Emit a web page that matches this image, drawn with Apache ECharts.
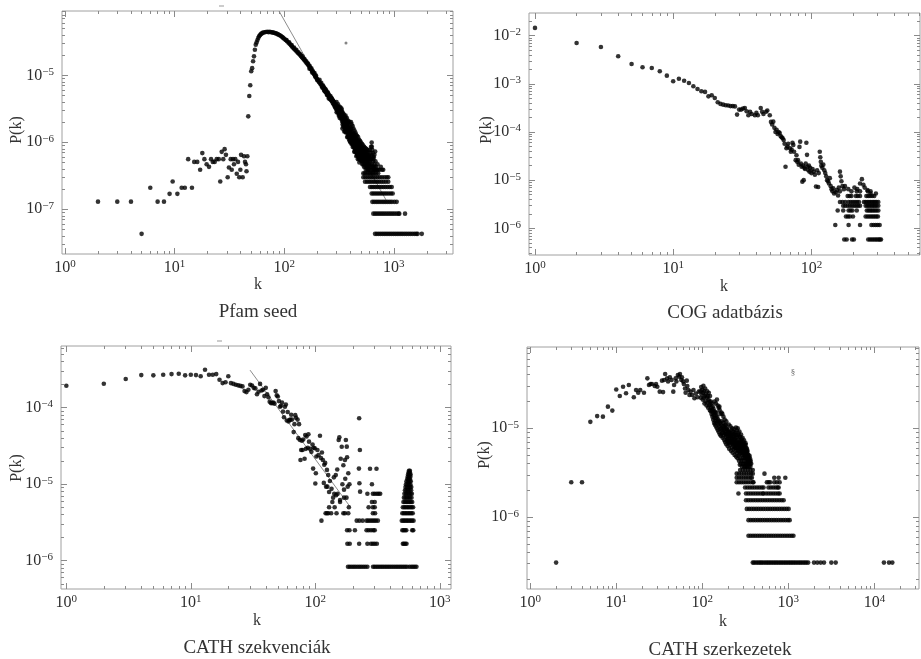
<!DOCTYPE html>
<html>
<head>
<meta charset="utf-8">
<script src="https://cdn.jsdelivr.net/npm/echarts@6/dist/echarts.min.js"></script>
<style>
html,body{margin:0;padding:0;background:#fff;}
#c{width:921px;height:659px;}
</style>
</head>
<body>
<div id="c"></div>
<script>
// ---------------- DATA ----------------
// Panel 1: Pfam seed
const pfamLow = [[2,1.3e-7],[3,1.3e-7],[4,1.3e-7],[5,4.3e-8],[6,2.1e-7],[7,1.3e-7],[8,1.3e-7],[9,1.7e-7],[9.6,2.6e-7],[10.6,1.7e-7],[11.6,2.1e-7],[12.4,2.1e-7],[13.3,5.6e-7],[14.4,2.1e-7],[15.1,5.1e-7],[16.1,5.1e-7],[17.1,3.9e-7],[17.9,6.9e-7],[18.7,5.6e-7],[19.6,4.7e-7],[20.6,4.3e-7],[21.5,5.6e-7],[22.3,5.1e-7],[23.2,5.1e-7],[24.2,5.6e-7],[25.3,5.6e-7],[26.1,2.6e-7],[26.9,7.2e-7],[27.8,5.6e-7],[28.6,7.9e-7],[29.4,6.5e-7],[30.5,3.0e-7],[31.3,4.2e-7],[32.5,5.6e-7],[33.2,3.9e-7],[34.1,5.6e-7],[34.8,4.7e-7],[35.8,5.6e-7],[36.9,3.4e-7],[37.9,5.1e-7],[38.9,3.0e-7],[39.8,3.9e-7],[40.4,6.5e-7],[41.8,3.0e-7],[43,6.2e-7],[43.9,5.1e-7],[44.8,4.7e-7],[45.3,3.7e-7],[46.1,6.2e-7]];
const pfamRise = [[47,2.44e-6],[48,4.9e-6],[49,7.1e-6],[50,1.15e-5],[51,1.28e-5],[52,1.62e-5],[53,1.92e-5],[54,2.41e-5],[55,2.87e-5],[56,3.1e-5],[57,3.37e-5],[58,3.6e-5],[59,3.82e-5],[60,3.95e-5],[61,4.1e-5],[62,4.2e-5],[63,4.25e-5],[64,4.35e-5],[66,4.38e-5],[68,4.44e-5],[70,4.46e-5],[72,4.41e-5],[74,4.47e-5],[76,4.4e-5],[78,4.37e-5],[80,4.33e-5],[82,4.28e-5],[84,4.22e-5],[86,4.16e-5],[88,4.08e-5],[90,4.0e-5],[92,3.92e-5],[94,3.82e-5],[96,3.72e-5],[98,3.62e-5],[100,3.5e-5],[103,3.38e-5],[105,3.35e-5],[106,3.22e-5],[109,3.08e-5],[111,3.1e-5],[112,2.95e-5],[115,2.8e-5],[117,2.82e-5],[118,2.68e-5],[121,2.56e-5],[123,2.6e-5],[124,2.45e-5],[127,2.36e-5],[129,2.4e-5],[130,2.27e-5],[133,2.18e-5],[135,2.2e-5],[136,2.1e-5],[139,2.03e-5],[141,2.05e-5],[142,1.95e-5],[145,1.86e-5],[147,1.92e-5],[148,1.8e-5],[151,1.72e-5],[153,1.75e-5],[154,1.66e-5],[157,1.6e-5],[159,1.62e-5],[160,1.53e-5],[163,1.48e-5],[165,1.5e-5],[166,1.42e-5],[169,1.36e-5],[170,1.25e-5],[171,1.37e-5],[172,1.29e-5],[175,1.25e-5],[177,1.27e-5],[178,1.19e-5],[180,1.1e-5],[181,1.14e-5],[183,1.15e-5],[184,1.08e-5],[187,1.05e-5],[189,1.08e-5],[190,1.0e-5],[192,9.5e-6],[193,9.7e-6],[195,9.9e-6],[196,9.2e-6],[199,8.9e-6],[200,8.5e-6]];
const pfamMid = [[202,8.5e-6],[205,8.3e-6],[208,7.9e-6],[210,8.6e-6],[211,7.8e-6],[214,7.4e-6],[217,7.3e-6],[218,7.7e-6],[220,6.9e-6],[222,6.6e-6],[223,6.9e-6],[225,7.1e-6],[226,6.5e-6],[228,6.8e-6],[229,6.3e-6],[231,6.5e-6],[232,6.0e-6],[234,5.8e-6],[235,6.1e-6],[237,6.3e-6],[238,5.7e-6],[240,6.0e-6],[241,5.6e-6],[243,5.8e-6],[244,5.3e-6],[246,5.1e-6],[247,5.4e-6],[249,5.6e-6],[250,5.0e-6],[252,5.4e-6],[253,5.1e-6],[255,4.5e-6],[256,4.8e-6],[258,5.0e-6],[259,4.75e-6],[261,4.6e-6],
[262,4.4e-6],[264,4.9e-6],[266,4.6e-6],[267,4.3e-6],[269,4.6e-6],[271,4.5e-6],[272,4.1e-6],[274,4.4e-6],[276,4.2e-6],[277,3.9e-6],[279,4.2e-6],[281,4.1e-6],[282,3.7e-6],[284,4.0e-6],[286,3.8e-6],[287,3.5e-6],[289,3.85e-6],[291,3.6e-6],[292,3.3e-6],[294,3.6e-6],[296,3.5e-6],[297,3.2e-6],[299,3.45e-6],[300,4.0e-6],[301,2.8e-6],[302,3.0e-6],[303,3.3e-6],[304,3.35e-6],[306,3.5e-6],[307,2.85e-6],[309,3.2e-6],[310,3.7e-6],[311,3.1e-6],[312,2.75e-6],[314,3.05e-6],[315,2.5e-6],[316,2.9e-6],[317,2.6e-6],[318,3.2e-6],[319,2.95e-6],[320,3.4e-6],[321,2.3e-6],[322,2.5e-6],[323,3.0e-6],[324,2.8e-6],[325,2.6e-6],[326,3.3e-6],[327,2.35e-6],[328,2.9e-6],[329,2.65e-6],[330,2.9e-6],[331,2.7e-6],[332,2.25e-6],[333,3.2e-6],[334,2.5e-6],[335,3.0e-6],[336,2.6e-6],[337,2.1e-6],[338,2.8e-6],[339,2.4e-6],[340,1.6e-6],[341,1.85e-6],[342,2.0e-6],[343,2.4e-6],[344,2.25e-6],[345,2.7e-6],[346,1.7e-6],[347,1.9e-6],[348,2.3e-6],[349,2.15e-6],[350,2.6e-6],[351,2.2e-6],[352,1.8e-6],[353,1.45e-6],[354,2.0e-6],[355,2.3e-6],[356,2.1e-6],[357,1.7e-6],[358,2.4e-6],[359,1.95e-6],[360,1.5e-6],[361,1.45e-6],[362,1.6e-6],[363,2.5e-6],[364,1.85e-6],[365,1.4e-6],[366,1.9e-6],[367,1.55e-6],[368,2.2e-6],[369,1.75e-6],[370,2.0e-6],[371,1.85e-6],[372,1.45e-6],[373,2.3e-6],[374,1.7e-6],[375,1.2e-6],[376,1.75e-6],[377,1.4e-6],[378,2.0e-6],[379,1.6e-6],[380,1.9e-6],[381,1.2e-6],[382,1.3e-6],[383,1.65e-6],[384,1.5e-6],[385,2.1e-6],[386,1.6e-6],[387,1.25e-6],[388,1.8e-6],[389,1.45e-6],[390,1.1e-6],[391,1.55e-6],[392,1.2e-6],[393,1.5e-6],[394,1.38e-6],[395,2.0e-6],[396,1.05e-6],[397,1.15e-6],[398,1.7e-6],[399,1.3e-6],[400,1.45e-6],
[401,1.0e-6],[402,1.1e-6],[403,1.4e-6],[405,1.3e-6],[406,1.55e-6],[407,2.0e-6],[408,1.05e-6],[409,1.6e-6],[410,9.5e-7],[411,1.22e-6],[412,1.85e-6],[413,1.3e-6],[414,9.8e-7],[416,1.25e-6],[417,1.15e-6],[418,1.4e-6],[420,9.3e-7],[421,1.75e-6],[422,8.5e-7],[423,1.1e-6],[424,1.2e-6],[425,1.25e-6],[426,9.0e-7],[427,1.35e-6],[428,1.6e-6],[429,1.05e-6],[431,1.15e-6],[432,8.5e-7],[434,1.3e-6],[435,1.0e-6],[436,7.2e-7],[437,1.5e-6],[438,8.2e-7],[439,1.1e-6],[440,7.3e-7],[441,9.5e-7],[442,1.2e-6],[444,7.8e-7],[445,1.05e-6],[446,1.4e-6],[447,9.2e-7],[449,1.05e-6],[450,7.5e-7],[451,1.15e-6],[452,1.3e-6],[453,8.8e-7],[455,6.2e-7],[456,7.0e-7],[457,1.0e-6],[459,8.6e-7],[460,9.5e-7],[461,1.25e-6],[462,6.8e-7],[463,6.4e-7],[464,9.5e-7],[465,8.0e-7],[467,1.05e-6],[468,6.5e-7],[470,5.6e-7],[471,7.8e-7],[472,1.2e-6],[473,9.0e-7],[474,6.2e-7],[475,8.5e-7],[476,1.0e-6],[477,7.4e-7],[479,8.8e-7],[480,6.0e-7],[481,1.1e-6],[482,5.6e-7],[483,7.2e-7],[484,8.5e-7],[485,5.0e-7],[486,5.8e-7],[487,9.3e-7],[489,7.0e-7],[490,8.0e-7],[491,1.05e-6],[492,5.6e-7],[493,8.6e-7],[495,6.6e-7],[496,9.0e-7],[498,5.4e-7],[499,7.7e-7],[500,1.0e-6],[501,6.4e-7]];
const pfamCloud = [[503,8.2e-7],[504,6.0e-7],[507,5.2e-7],[509,7.7e-7],[510,6.4e-7],[512,9.5e-7],[513,5.6e-7],[515,8.2e-7],[516,4.7e-7],[519,6.0e-7],[521,7.3e-7],[522,5.2e-7],[524,9.0e-7],[525,6.9e-7],[527,7.7e-7],[528,4.7e-7],[531,5.6e-7],[533,6.9e-7],[534,4.3e-7],[536,8.6e-7],[537,6.0e-7],[539,7.3e-7],[540,5.2e-7],[543,4.7e-7],[545,6.9e-7],[546,6.4e-7],[548,8.2e-7],[549,4.3e-7],[551,6.5e-7],[552,5.6e-7],[555,3.9e-7],[557,7.3e-7],[558,5.2e-7],[560,8.0e-7],[561,4.7e-7],[563,6.5e-7],[564,6.0e-7],[567,4.3e-7],[569,6.9e-7],[570,5.2e-7],[573,3.9e-7],[575,7.7e-7],[576,4.7e-7],[578,6.5e-7],[579,5.6e-7],[582,4.3e-7],[585,3.9e-7],[586,6.0e-7],[588,5.2e-7],[590,7.3e-7],[591,4.7e-7],[594,6.4e-7],[596,6.0e-7],[597,4.3e-7],[600,3.9e-7],[604,5.2e-7],[605,7.7e-7],[608,4.7e-7],[610,5.6e-7],[612,4.3e-7],[616,6.9e-7],[620,8.6e-7],[622,3.9e-7],[624,5.6e-7],[626,6.4e-7],[628,9.9e-7],[630,8.6e-7],[632,4.7e-7],[636,7.7e-7],[638,6.0e-7],[640,4.3e-7],[644,3.9e-7],[645,6.9e-7],[648,5.2e-7],[650,5.6e-7],[652,4.3e-7],[656,6.0e-7],[660,3.9e-7],[664,4.7e-7],[665,6.5e-7],[668,4.3e-7],[672,3.9e-7],[676,7.3e-7],[680,5.2e-7],[684,3.9e-7],[690,4.3e-7],[700,3.9e-7],[710,4.7e-7],[720,3.9e-7],[740,3.9e-7],[760,4.3e-7],[780,3.9e-7],[800,3.9e-7]];
const pfamRowLevels = [4.3e-8, 8.6e-8, 1.29e-7, 1.72e-7, 2.15e-7, 2.58e-7, 3.0e-7, 3.44e-7];
const pfamRowK = [
  [674,700,728,757,787,818,850,884,919,955,993,1032,1073,1115,1160,1205,1255,1305,1360,1415,1475,1540,1600,1650,1800],
  [650,676,703,732,762,793,825,860,895,932,970,1010,1055,1100,1122,1266],
  [637,662,690,718,748,780,812,846,882,920,960,1010,1062],
  [628,652,678,705,733,763,795,828,862,900,940,977],
  [606,630,655,682,710,740,772,805,840,878,918,957],
  [546,570,595,620,648,675,705,735,770,805,845,890],
  [527,550,575,600,625,650,680,710,745,780,820,860,890],
  [527,545,565,585,605,625,645,665,690,720]
];
const pfamStray = [[366,3.03e-5]];
const pfamFit = [[89.7,9.1e-5],[849,1.38e-7]];

// Panel 2: COG adatbázis
const cogMain = [[1,1.45e-2],[2,7.06e-3],[3,5.83e-3],[4,3.74e-3],[5,2.59e-3],[6,2.21e-3],[7,2.14e-3],[8,1.82e-3],[9,1.48e-3],[10,1.13e-3],[11,1.28e-3],[12,1.16e-3],[13,1.04e-3],[14,8.9e-4],[15,7.8e-4],[16,7.0e-4],[17,6.8e-4],[18,5.5e-4],[19,5.8e-4],[20,5.1e-4],[21,4.15e-4],[22,3.83e-4],[23,3.7e-4],[24,3.6e-4],[25,3.55e-4],[26,3.45e-4],[27,3.45e-4],[28,3.4e-4],[29,2.3e-4],[30,2.92e-4],[31,2.92e-4],[32,3.06e-4],[33,3.16e-4],[34,2.7e-4],[35,2.23e-4],[36,2.64e-4],[37,2.37e-4],[39,2.23e-4],[40,2.49e-4],[41,2.23e-4],[43,3.16e-4],[44,2.64e-4],[45,2.37e-4],[47,2.64e-4],[48,2.8e-4],[50,2.23e-4]];
const cogTail = [[51,1.62e-4],[52,1.43e-4],[53,1.64e-4],[54,1.22e-4],[55,1.0e-4],[56,1.11e-4],[57,9.1e-5],[58,1.0e-4],[59,9.5e-5],[60,8.2e-5],[61,7.8e-5],[62,7.4e-5],[63,6.8e-5],[64,5.7e-5],[65,1.9e-5],[66,4.6e-5],[67,5.0e-5],[68,5.7e-5],[70,4.6e-5],[71,3.9e-5],[72,4.3e-5],[73,6.0e-5],[74,5.4e-5],[75,3.9e-5],[77,2.6e-5],[78,3.3e-5],[79,2.4e-5],[80,2.6e-5],[81,2.1e-5],[82,4.9e-5],[83,6.3e-5],[84,2.2e-5],[85,1.9e-5],[86,9.3e-6],[87,2.0e-5],[88,1.0e-5],[89,1.8e-5],[90,1.7e-5],[91,2.2e-5],[92,6.0e-5],[93,3.35e-5],[94,1.9e-5],[95,1.6e-5],[96,2.0e-5],[97,1.5e-5],[98,1.8e-5],[100,1.4e-5],[102,1.7e-5],[104,1.5e-5],[106,1.3e-5],[108,7.4e-6],[110,1.6e-5],[112,7.2e-6],[113,1.4e-5],[115,3.9e-5],[116,3.0e-5],[117,2.4e-5],[118,2.0e-5],[120,1.8e-5],[122,2.1e-5],[124,1.6e-5],[126,1.4e-5],[128,1.2e-5],[130,1.0e-5],[132,9.5e-6],[134,8.5e-6],[136,1.1e-5],[138,7.5e-6],[140,6.5e-6],[142,5.9e-6],[144,6.8e-6],[146,5.3e-6],[150,5.6e-6],[153,6.2e-6],[156,4.8e-6],[158,7.0e-6],[161,1.5e-5],[163,1.2e-5],[165,9.5e-6],[168,7.5e-6],[172,6.5e-6],[175,7.5e-6],[185,6.5e-6],[205,7.0e-6],[215,6.5e-6],[225,8.5e-6],[232,1.05e-5],[238,8.0e-6],[243,7.0e-6],[255,6.2e-6],[268,5.3e-6],[293,5.3e-6]];
const cogRowLevels = [5.86e-7, 1.17e-6, 1.76e-6, 2.34e-6, 2.93e-6, 3.52e-6, 4.69e-6, 5.86e-6];
const cogRowK = [
  [173,180,197,203,258,266,274,282,290,298,306,313,319],
  [149,186,225,272,282,292,302,312],
  [178,184,190,200,247,255,263,271,279,287,295,303],
  [155,170,186,192,198,213,252,259,266,273,280,288,296,305],
  [170,176,183,190,197,204,211,218,225,247,254,261,268,275,282,289,296,305],
  [161,168,176,186,193,200,207,214,221,240,247,254,261,268,275,282,289,296,305],
  [183,189,195,210,217,225,250,258,266,275,285],
  [161,195,213,225,256,268]
];

// Panel 3: CATH szekvenciák
const cathSeqMain = [[1,1.94e-4],[2,2.06e-4],[3,2.37e-4],[4,2.67e-4],[5,2.65e-4],[6,2.7e-4],[7,2.75e-4],[8,2.78e-4],[9,2.65e-4],[10,2.7e-4],[11,2.67e-4],[12,2.58e-4],[13,3.14e-4],[14,2.7e-4],[15,2.7e-4],[16,2.75e-4],[17,2.32e-4],[18,2.1e-4],[19,2.15e-4],[20,2.58e-4],[21,2.1e-4],[22,2.05e-4],[23,2.0e-4],[24,1.96e-4],[25,1.93e-4],[26,1.9e-4],[27,1.65e-4],[28,1.6e-4],[29,1.72e-4],[30,2.0e-4],[31,1.95e-4],[32,1.82e-4],[33,1.79e-4],[34,1.5e-4],[35,1.62e-4],[36,2.05e-4],[37,1.68e-4],[38,1.72e-4],[39,1.42e-4],[40,1.82e-4],[41,1.5e-4],[42,1.37e-4],[43,1.2e-4],[44,1.15e-4],[45,1.15e-4],[46,1.17e-4],[47,1.13e-4],[48,1.65e-4],[49,1.45e-4],[50,1.4e-4],[51,1.22e-4],[52,1.03e-4],[53,1.06e-4],[54,1.17e-4],[55,8.9e-5],[56,7.5e-5],[57,1.03e-4],[58,1.1e-4],[59,6.8e-5],[60,8.8e-5],[61,6.6e-5],[62,6.9e-5],[63,7.0e-5],[64,8.1e-5],[65,7.0e-5],[67,4.8e-5],[68,6.1e-5],[69,8.0e-5],[70,7.4e-5],[72,7.0e-5],[73,4.0e-5],[74,6.1e-5],[75,3.8e-5],[76,2.07e-5],[77,2.8e-5],[78,3.7e-5],[79,2.8e-5],[80,3.85e-5],[82,2.15e-5],[83,4.4e-5],[84,2.9e-5],[85,4.2e-5],[87,3.0e-5],[88,4.5e-5],[89,3.6e-5],[91,2.9e-5],[93,2.65e-5],[95,3.3e-5],[96,1.6e-5],[97,3.0e-5],[99,2.95e-5],[100,1.02e-5],[101,1.39e-5],[102,2.3e-5],[104,2.8e-5],[106,2.4e-5],[109,4.3e-5],[111,2.2e-5],[113,2.6e-5],[115,2.07e-5],[117,1.04e-5],[118,1.8e-5],[120,1.9e-5],[122,9.3e-6],[124,1.54e-5],[125,9.3e-6],[127,1.32e-5],[129,7.9e-6],[131,1.1e-5],[135,8.7e-6],[141,1.23e-5],[146,1.32e-5],[147,7.2e-6],[150,1.56e-5],[154,3.78e-5],[156,4.1e-5],[158,6.2e-6],[160,2.15e-5],[163,3.09e-5],[165,1.0e-5],[168,1.77e-5],[170,8.5e-6],[173,2.07e-5],[174,1.18e-5],[176,3.78e-5],[179,3.1e-5],[180,2.25e-5],[182,9.3e-6],[184,1.39e-5],[188,1.0e-5],[224,1.6e-5],[225,7.3e-5],[226,1.03e-5],[228,2.8e-5],[229,8.0e-6]];
const cathSeqRowLevels = [8.35e-7,1.67e-6,2.5e-6,3.34e-6,4.17e-6,5.0e-6,5.85e-6,6.68e-6,7.5e-6,8.35e-6,9.2e-6,1.0e-5,1.09e-5,1.17e-5,1.25e-5,1.34e-5,1.42e-5,1.5e-5,1.59e-5];
const cathSeqRowK = [
  [183,189,196,203,210,218,226,234,243,252,262,291,300,310,320,331,342,353,365,377,390,403,417,431,446,461,477,493,510,527,545,570,592,610,630,649],
  [181,189,225,262,280,290,300,312,505,515,527,540],
  [180,188,208,258,268,280,292,300,500,512,525,538,600,612],
  [112,215,226,240,258,266,276,286,296,306,318,495,508,522,536,550,566,582,598,615],
  [121,124,127,134,148,168,173,184,290,302,500,514,528,543,558,574,590,606],
  [129,143,186,268,290,300,505,519,533,548,563,579,595,610],
  [137,158,285,300,510,524,539,554,569,585,600],
  [139,170,178,515,530,545,560,576,592],
  [142,151,262,290,300,312,322,332,520,535,550,566,582,596],
  [525,540,556,572,588],
  [530,545,561,577,590],
  [285,535,550,566,580],
  [540,556,570,584],
  [548,562,576],
  [552,566,580],
  [556,570,582],
  [562,575],
  [565,575],
  [275,310]
];
const cathSeqFit = [[29.9,3.1e-4],[190,5.1e-6]];

// Panel 4: CATH szerkezetek
const cathStrMain = [[2,3.09e-7],[3,2.47e-6],[4,2.47e-6],[5,1.18e-5],[6,1.37e-5],[7,1.35e-5],[8,1.75e-5],[9,1.58e-5],[10,2.73e-5],[11,2.3e-5],[12,2.93e-5],[13,2.47e-5],[14,3.06e-5],[16,2.23e-5],[17,2.69e-5],[18,2.51e-5],[19,2.69e-5],[21,2.51e-5],[23,3.64e-5],[24,3.06e-5],[25,3.14e-5],[26,3.14e-5],[28,2.98e-5],[29,3.14e-5],[30,2.93e-5],[32,2.58e-5],[34,3.43e-5],[35,2.55e-5],[36,3.48e-5],[37,4.07e-5],[39,3.64e-5],[40,3.36e-5],[42,3.74e-5],[44,3.48e-5],[46,2.58e-5],[47,3.06e-5],[49,3.64e-5],[50,3.36e-5],[52,3.96e-5],[54,3.8e-5],[55,4.07e-5],[57,3.48e-5],[58,3.74e-5],[60,3.36e-5],[61,3.14e-5],[63,2.8e-5],[64,2.51e-5],[66,3.43e-5],[67,2.98e-5],[69,2.69e-5],[71,2.36e-5],[73,2.58e-5],[76,2.36e-5],[79,2.69e-5],[81,2.17e-5],[84,2.45e-5],[88,2.23e-5],[91,2.58e-5]];
const cathStrBand = [[95,2.6e-5],[96,2.2e-5],[97,2.9e-5],[98,2.4e-5],[100,2.7e-5],[101,2.1e-5],[102,2.5e-5],[103,3.0e-5],[104,2.2e-5],[105,2.6e-5],[106,1.9e-5],[107,2.3e-5],[108,2.8e-5],[109,2.0e-5],[110,2.4e-5],[112,1.8e-5],[113,2.2e-5],[114,2.6e-5],[115,1.95e-5],[116,2.3e-5],[117,1.7e-5],[118,2.1e-5],[119,2.5e-5],[120,1.8e-5],[121,2.0e-5],[122,1.6e-5],[123,2.3e-5],[124,1.85e-5],[125,1.55e-5],
[126,2.0e-5],[127,1.7e-5],[128,1.45e-5],[129,1.9e-5],[130,1.6e-5],[131,1.35e-5],[132,1.75e-5],[133,1.5e-5],[134,1.25e-5],[135,1.65e-5],[136,1.4e-5],[137,1.15e-5],[138,1.55e-5],[139,1.3e-5],[140,1.1e-5],[141,1.5e-5],[142,1.2e-5],[143,1.4e-5],[144,1.05e-5],[145,1.3e-5],[146,1.5e-5],[147,1.15e-5],[148,1.0e-5],[149,1.35e-5],[150,1.2e-5],[152,9.5e-6],[153,1.25e-5],[154,1.1e-5],[156,9.0e-6],[157,1.2e-5],[158,1.05e-5],[160,8.5e-6],[161,1.15e-5],[162,9.8e-6],[164,1.1e-5],[165,8.2e-6],[166,1.0e-5],[168,1.2e-5],[169,8.8e-6],[170,9.5e-6],[172,7.8e-6],[173,1.05e-5],[174,9.0e-6],[175,1.15e-5],
[139,2.0e-5],[144,1.9e-5],[148,2.1e-5],[151,1.8e-5],[155,1.7e-5],[158,1.75e-5],[159,1.6e-5],[163,1.45e-5],[167,1.5e-5],[171,1.45e-5],[176,1.35e-5],[179,1.05e-5],[182,1.25e-5],[185,1.1e-5],[188,8.5e-6],[190,1.2e-5],[191,1.0e-5],[193,7.5e-6],[196,9.5e-6],[199,8.8e-6],[201,7.0e-6],
[177,8.3e-6],[178,9.6e-6],[180,7.4e-6],[181,1.0e-5],[183,8.8e-6],[184,7.0e-6],[186,9.2e-6],[187,1.08e-5],[189,8.0e-6],[190,6.6e-6],[192,8.6e-6],[194,9.8e-6],[195,7.2e-6],[197,6.3e-6],[198,8.2e-6],[200,7.6e-6],[202,9.0e-6],[203,1.1e-5],[204,6.8e-6],[205,5.9e-6],[206,9.2e-6],[207,7.8e-6],[208,7.0e-6],[209,8.6e-6],[210,8.2e-6],[211,6.5e-6],[212,1.05e-5],[213,7.3e-6],[214,8.8e-6],[215,5.6e-6],[216,7.0e-6],[217,8.2e-6],[218,9.5e-6],[219,6.9e-6],[220,7.8e-6],[221,6.1e-6],[222,1.0e-5],[223,7.6e-6],[224,8.5e-6],[225,5.3e-6],[226,7.2e-6],[227,6.6e-6],[228,9.2e-6],[229,8.0e-6],[230,6.8e-6],[231,5.8e-6],[232,9.8e-6],[233,7.0e-6],[234,8.5e-6],[235,6.2e-6],[236,7.6e-6],[237,5.0e-6],[238,8.8e-6],[239,7.4e-6],[240,6.0e-6],[241,6.5e-6],[242,9.0e-6],[243,5.5e-6],[244,7.8e-6],[245,6.8e-6],[246,1.02e-5],[247,4.8e-6],[248,8.4e-6],[249,6.0e-6],[250,6.5e-6],
[251,7.0e-6],[252,9.5e-6],[253,5.3e-6],[254,8.0e-6],[255,6.4e-6],[256,7.2e-6],[257,4.6e-6],[258,1.0e-5],[259,5.7e-6],[260,8.4e-6],[261,6.7e-6],[262,6.0e-6],[263,4.9e-6],[264,8.8e-6],[265,5.5e-6],[266,7.4e-6],[267,4.3e-6],[268,6.8e-6],[269,6.2e-6],[270,9.2e-6],[271,5.1e-6],[272,8.0e-6],[273,3.9e-6],[274,6.5e-6],[275,5.9e-6],[276,8.0e-6],[277,4.6e-6],[278,7.2e-6],[279,6.8e-6],[280,5.5e-6],[281,4.0e-6],[282,8.5e-6],[283,5.3e-6],[284,6.6e-6],[285,4.3e-6],[286,7.0e-6],[287,6.0e-6],[288,7.5e-6],[289,3.7e-6],[290,6.4e-6],[291,5.0e-6],[292,5.8e-6],[293,4.6e-6],[294,7.8e-6],[295,5.6e-6],[296,6.6e-6],[297,4.0e-6],[298,5.2e-6],[299,6.2e-6],[300,7.0e-6],[301,4.3e-6],[302,6.0e-6],[303,5.0e-6],[304,6.6e-6],[305,3.7e-6],[306,7.3e-6],[307,5.6e-6],[308,5.4e-6],[309,4.6e-6],[310,6.0e-6],[311,4.0e-6],[312,6.5e-6],[313,5.3e-6],[314,5.8e-6],[315,3.7e-6],[316,5.0e-6],[317,4.6e-6],[318,6.8e-6],[319,6.5e-6],[320,5.6e-6],[321,4.0e-6],[322,4.8e-6],[323,5.0e-6],[324,6.0e-6],[325,3.7e-6],[326,5.4e-6],[327,4.3e-6],[328,5.0e-6],[329,5.9e-6],[330,5.5e-6],[331,4.0e-6],[332,4.8e-6],[334,4.6e-6],[335,5.6e-6],[336,5.2e-6],[337,3.7e-6],[338,4.4e-6],[340,4.3e-6],[342,4.8e-6],[344,5.0e-6],[345,4.0e-6],[346,4.6e-6],[348,4.4e-6],[350,3.7e-6],[352,4.2e-6],[354,4.9e-6],[356,4.3e-6],[358,4.6e-6],[360,4.0e-6],[362,3.7e-6],[365,4.3e-6],[370,4.0e-6]];
const cathStrRowLevels = [3.09e-7,6.18e-7,9.27e-7,1.24e-6,1.55e-6,1.85e-6,2.16e-6,2.47e-6,2.78e-6,3.09e-6,3.4e-6];
const cathStrRowK = [
  [386,400,420,440,460,480,500,525,550,575,600,628,657,687,718,751,786,822,860,900,940,985,1030,1075,1125,1175,1230,1290,1350,1410,1480,1550,1620,1700,1987,2172,2375,2596,3157,3550,12900,14780,16150],
  [344,365,388,412,438,465,494,525,558,593,630,670,712,757,805,855,910,967,1028,1090,1146],
  [344,366,390,415,442,470,500,532,566,602,640,681,724,770,820,872,928,987,1036],
  [329,350,373,397,423,450,479,510,543,578,615,655,697,742,790,841,895,952,1008],
  [322,343,366,390,416,443,472,503,536,571,608,648,690,735,783,834,882],
  [263,322,343,366,390,416,443,472,503,514,552,588,626,667,710,756,792],
  [314,335,357,380,405,432,460,490,514,588,626,667,710,750,771],
  [251,267,284,302,321,341,363,386,393,563,590,614,686,737,792],
  [251,267,284,302,321,341,363,377,686,771,922],
  [251,268,286,305,325,346,368,386,528],
  [275,295,316,338,362,386]
];

// Axis tick multipliers and titles
const minorMultipliers = [2,3,4,5,6,7,8,9];
const titles = ['Pfam seed', 'COG adatbázis', 'CATH szekvenciák', 'CATH szerkezetek'];

// ---------------- LAYOUT ----------------
const FONT = 'Liberation Serif';
const panels = [
  {grid:{left:62, top:11, width:391, height:243}, x:[0.939, 3467], y:[2.15e-8, 9.12e-5],
   title:[258,312], k:[258,285], pk:[17,130]},
  {grid:{left:529, top:13, width:391, height:242}, x:[0.905, 611], y:[2.79e-7, 2.96e-2],
   title:[725,313], k:[724,287], pk:[487,130]},
  {grid:{left:61, top:346, width:390, height:243}, x:[0.906, 1230], y:[4.27e-7, 6.41e-4],
   title:[257,648], k:[257,621], pk:[17,468]},
  {grid:{left:527, top:347, width:392, height:242}, x:[0.918, 32980], y:[1.56e-7, 8.19e-5],
   title:[720,650], k:[723,622], pk:[485,455]}
];

function decades(r){
  const out=[];
  for(let e=Math.ceil(Math.log10(r[0])-1e-9); e<=Math.floor(Math.log10(r[1])+1e-9); e++) out.push(Number('1e'+e));
  return out;
}
function minors(r){
  const out=[];
  for(let e=Math.floor(Math.log10(r[0])); e<=Math.ceil(Math.log10(r[1])); e++){
    minorMultipliers.forEach(m=>{ const v=m*Number('1e'+e); if(v>=r[0] && v<=r[1]) out.push(v); });
  }
  return out;
}
function expLabel(v){
  const e=Math.round(Math.log10(v));
  return '{b|10}{s|' + (e<0 ? '\u2212'+(-e) : String(e)) + '}';
}
const rich = {
  b:{fontFamily:FONT, fontSize:16, color:'#2e2e2e', lineHeight:18},
  s:{fontFamily:FONT, fontSize:11, color:'#2e2e2e', lineHeight:10, verticalAlign:'top'}
};
function rowsToPoints(levels, ks){
  const pts=[];
  levels.forEach((lv,i)=>{ ks[i].forEach(k=>pts.push([k,lv])); });
  return pts;
}

const panelData = [
  [].concat(pfamLow, pfamRise, pfamMid, pfamCloud, rowsToPoints(pfamRowLevels, pfamRowK)),
  [].concat(cogMain, cogTail, rowsToPoints(cogRowLevels, cogRowK)),
  [].concat(cathSeqMain, rowsToPoints(cathSeqRowLevels, cathSeqRowK)),
  [].concat(cathStrMain, cathStrBand, rowsToPoints(cathStrRowLevels, cathStrRowK))
];

const grids=[], xAxes=[], yAxes=[], series=[], graphics=[];
const TICK = '#8a8a8a';
panels.forEach((p,i)=>{
  grids.push(Object.assign({show:true, borderColor:'#a0a0a0', borderWidth:1, backgroundColor:'transparent'}, p.grid));
  const xm=decades(p.x), xn=minors(p.x), ym=decades(p.y), yn=minors(p.y);
  const base = (r)=>({type:'log', gridIndex:i, min:r[0], max:r[1], splitLine:{show:false}, axisLine:{show:false, onZero:false}});
  xAxes.push(Object.assign(base(p.x), {position:'bottom',
    axisTick:{inside:true, length:6, customValues:xm, lineStyle:{color:TICK}},
    axisLabel:{customValues:xm, formatter:expLabel, rich:rich, margin:5}}));
  xAxes.push(Object.assign(base(p.x), {position:'bottom',
    axisTick:{inside:true, length:3, customValues:xn, lineStyle:{color:TICK}}, axisLabel:{show:false}}));
  xAxes.push(Object.assign(base(p.x), {position:'top',
    axisTick:{inside:true, length:6, customValues:xm, lineStyle:{color:TICK}}, axisLabel:{show:false}}));
  xAxes.push(Object.assign(base(p.x), {position:'top',
    axisTick:{inside:true, length:3, customValues:xn, lineStyle:{color:TICK}}, axisLabel:{show:false}}));
  yAxes.push(Object.assign(base(p.y), {position:'left',
    axisTick:{inside:true, length:6, customValues:ym, lineStyle:{color:TICK}},
    axisLabel:{customValues:ym, formatter:expLabel, rich:rich, margin:8}}));
  yAxes.push(Object.assign(base(p.y), {position:'left',
    axisTick:{inside:true, length:3, customValues:yn, lineStyle:{color:TICK}}, axisLabel:{show:false}}));
  yAxes.push(Object.assign(base(p.y), {position:'right',
    axisTick:{inside:true, length:6, customValues:ym, lineStyle:{color:TICK}}, axisLabel:{show:false}}));
  yAxes.push(Object.assign(base(p.y), {position:'right',
    axisTick:{inside:true, length:3, customValues:yn, lineStyle:{color:TICK}}, axisLabel:{show:false}}));

  series.push({type:'scatter', xAxisIndex:4*i, yAxisIndex:4*i, data:panelData[i],
    symbol:'circle', symbolSize:4.6, itemStyle:{color:'#000'}, silent:true, z:3});

  graphics.push({type:'text', style:{x:p.title[0], y:p.title[1], text:titles[i], fill:'#333',
    font:'19px "'+FONT+'"', textAlign:'center', textVerticalAlign:'middle'}});
  graphics.push({type:'text', style:{x:p.k[0], y:p.k[1], text:'k', fill:'#333',
    font:'16px "'+FONT+'"', textAlign:'center', textVerticalAlign:'middle'}});
  graphics.push({type:'text', x:p.pk[0], y:p.pk[1], rotation:Math.PI/2, style:{x:0, y:0, text:'P(k)', fill:'#333',
    font:'16px "'+FONT+'"', textAlign:'center', textVerticalAlign:'middle'}});
});

series.push({type:'line', xAxisIndex:0, yAxisIndex:0, data:pfamFit, symbol:'none',
  lineStyle:{color:'#8c8c8c', width:1}, silent:true, z:2});
series.push({type:'line', xAxisIndex:8, yAxisIndex:8, data:cathSeqFit, symbol:'none',
  lineStyle:{color:'#8c8c8c', width:1}, silent:true, z:2});
series.push({type:'scatter', xAxisIndex:0, yAxisIndex:0, data:pfamStray, symbolSize:3,
  itemStyle:{color:'#666'}, silent:true, z:3});

graphics.push({type:'line', shape:{x1:219, y1:6, x2:224, y2:6}, style:{stroke:'#999', lineWidth:1}});
graphics.push({type:'line', shape:{x1:217, y1:341, x2:222, y2:341}, style:{stroke:'#999', lineWidth:1}});
graphics.push({type:'text', style:{x:793, y:373, text:'\u00a7', fill:'#666', font:'9px "'+FONT+'"',
  textAlign:'center', textVerticalAlign:'middle'}});

const chart = echarts.init(document.getElementById('c'), null, {renderer:'canvas', width:921, height:659});
chart.setOption({
  animation:false,
  backgroundColor:'#fff',
  grid:grids,
  xAxis:xAxes,
  yAxis:yAxes,
  series:series,
  graphic:graphics
});
</script>
</body>
</html>
